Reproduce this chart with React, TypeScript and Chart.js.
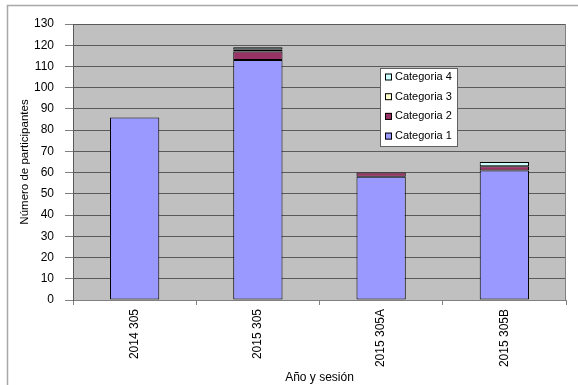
import React, { useEffect, useRef } from "react";
import { Chart, registerables } from "chart.js";

Chart.register(...registerables);

const categories = ["2014 305", "2015 305", "2015 305A", "2015 305B"];
const categoria1 = [86, 113, 58, 61];
const categoria2 = [0, 4, 2, 2];
const categoria3 = [0, 1, 0, 0];
const categoria4 = [0, 1, 0, 2];
const seriesNames = ["Categoria 1", "Categoria 2", "Categoria 3", "Categoria 4"];
const seriesColors = ["#9999FF", "#993366", "#FFFFCC", "#CCFFFF"];
const yMax = 130;
const yStep = 10;

const FONT = "'Liberation Sans', Arial, sans-serif";

const framePlugin = {
  id: "frame",
  beforeDraw(chart: any) {
    const { ctx, chartArea } = chart;
    ctx.save();
    ctx.fillStyle = "#ffffff";
    ctx.fillRect(0, 0, chart.width, chart.height);
    ctx.strokeStyle = "#a8a8a8";
    ctx.lineWidth = 1.5;
    ctx.strokeRect(7.5, 5.5, chart.width + 20, chart.height + 20);
    ctx.fillStyle = "#C0C0C0";
    ctx.fillRect(chartArea.left, chartArea.top, chartArea.right - chartArea.left, chartArea.bottom - chartArea.top);
    ctx.restore();
  },
  afterDatasetsDraw(chart: any) {
    const { ctx, chartArea } = chart;
    ctx.save();
    ctx.strokeStyle = "#808080";
    ctx.lineWidth = 1;
    ctx.beginPath();
    ctx.moveTo(Math.round(chartArea.right) - 0.5, chartArea.top);
    ctx.lineTo(Math.round(chartArea.right) - 0.5, chartArea.bottom);
    ctx.stroke();
    // legend
    const lx = 380, ly = 68, lw = 77, lh = 78;
    ctx.fillStyle = "#ffffff";
    ctx.fillRect(lx, ly, lw, lh);
    ctx.strokeStyle = "#606060";
    ctx.strokeRect(lx + 0.5, ly + 0.5, lw, lh);
    ctx.font = `11px ${FONT}`;
    ctx.textBaseline = "middle";
    ctx.textAlign = "left";
    for (let i = 0; i < 4; i++) {
      const idx = 3 - i;
      const cy = ly + 9 + i * 19.7;
      ctx.fillStyle = seriesColors[idx];
      ctx.fillRect(lx + 5, cy - 3.5, 7, 7);
      ctx.strokeStyle = "#000000";
      ctx.strokeRect(lx + 5.5, cy - 3, 6, 6);
      ctx.fillStyle = "#000000";
      ctx.fillText(seriesNames[idx], lx + 15, cy);
    }
    ctx.restore();
  },
};

export default function App() {
  const ref = useRef<HTMLCanvasElement | null>(null);
  useEffect(() => {
    if (!ref.current) return;
    const data = [categoria1, categoria2, categoria3, categoria4];
    const chart = new Chart(ref.current, {
      type: "bar",
      data: {
        labels: categories,
        datasets: data.map((d, i) => ({
          label: seriesNames[i],
          data: d,
          backgroundColor: seriesColors[i],
          borderColor: "#000000",
          borderWidth: (c: any) => (c.raw ? 1 : 0),
          borderSkipped: false,
          barPercentage: 0.4,
          categoryPercentage: 1,
        })),
      },
      options: {
        animation: false,
        responsive: false,
        maintainAspectRatio: false,
        layout: { padding: { top: 24, right: 12, left: 0, bottom: 0 } },
        plugins: { legend: { display: false }, tooltip: { enabled: false } },
        scales: {
          x: {
            stacked: true,
            afterFit: (s: any) => { s.height = 85; },
            grid: { drawOnChartArea: false, drawTicks: true, tickLength: 5, color: "#808080", offset: true },
            border: { color: "#808080" },
            ticks: {
              minRotation: 90, maxRotation: 90, padding: 4, color: "#000",
              font: { family: FONT, size: 12 },
            },
            title: { display: true, text: "Año y sesión", color: "#000", font: { family: FONT, size: 12 }, padding: { top: 0, bottom: 0 } },
          },
          y: {
            stacked: true,
            min: 0,
            max: yMax,
            afterFit: (s: any) => { s.width = 73; },
            grid: { color: "#5a5a5a", tickLength: 8, tickColor: "#808080" },
            border: { color: "#5a5a5a" },
            ticks: { stepSize: yStep, padding: 11, color: "#000", font: { family: FONT, size: 12 } },
            title: { display: true, text: "Número de participantes", color: "#000", font: { family: FONT, size: 11.5 }, padding: { top: 18, bottom: 0 } },
          },
        },
      },
      plugins: [framePlugin],
    });
    return () => chart.destroy();
  }, []);
  return (
    <div style={{ position: "absolute", left: 0, top: 0, width: 578, height: 385 }}>
      <canvas ref={ref} width={578} height={385} style={{ display: "block" }} />
    </div>
  );
}
